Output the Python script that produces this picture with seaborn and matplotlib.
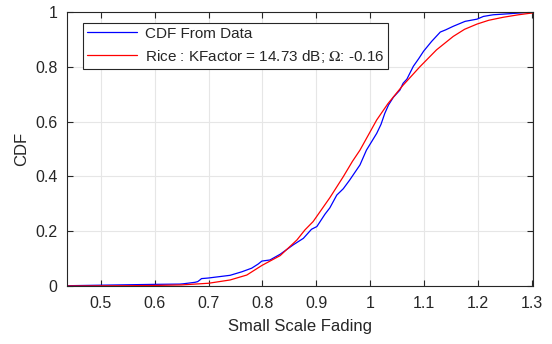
import pandas as pd
import matplotlib
matplotlib.use('Agg')
import matplotlib.pyplot as plt
import seaborn as sns

# 데이터
data_x = [0.4375, 0.50, 0.60, 0.647, 0.653, 0.675, 0.680, 0.684, 0.687, 0.699, 0.74, 0.762,
          0.78, 0.792, 0.799, 0.814, 0.833, 0.857, 0.876, 0.891, 0.901, 0.916, 0.925,
          0.938, 0.950, 0.962, 0.981, 0.993, 1.012, 1.020, 1.027, 1.034, 1.043, 1.055, 1.061,
          1.068, 1.08, 1.090, 1.099, 1.114, 1.13, 1.140, 1.154, 1.176, 1.198, 1.210,
          1.228, 1.259, 1.302]
data_cdf = [0.001, 0.003, 0.006, 0.007, 0.008, 0.0135, 0.016, 0.022, 0.027, 0.029, 0.039, 0.052,
            0.065, 0.080, 0.091, 0.095, 0.116, 0.150, 0.174, 0.207, 0.217, 0.262, 0.285,
            0.332, 0.355, 0.387, 0.442, 0.496, 0.557, 0.590, 0.630, 0.661, 0.689, 0.715, 0.740,
            0.755, 0.802, 0.830, 0.857, 0.893, 0.927, 0.935, 0.948, 0.966, 0.974, 0.984,
            0.990, 0.994, 1.0]

rice_x = [0.4375, 0.55, 0.60, 0.65, 0.70, 0.74, 0.771, 0.799, 0.833, 0.864, 0.879,
          0.894, 0.925, 0.95, 0.967, 0.981, 1.012, 1.033, 1.055, 1.061, 1.092,
          1.123, 1.154, 1.175, 1.198, 1.220, 1.247, 1.275, 1.302]
rice_cdf = [0.0, 0.001, 0.002, 0.004, 0.010, 0.022, 0.040, 0.075, 0.111, 0.168, 0.205,
            0.235, 0.322, 0.399, 0.455, 0.496, 0.606, 0.666, 0.719, 0.733, 0.800,
            0.862, 0.911, 0.937, 0.956, 0.970, 0.981, 0.990, 0.997]

x_ticks = [0.5, 0.6, 0.7, 0.8, 0.9, 1.0, 1.1, 1.2, 1.3]
x_tick_labels = ['0.5', '0.6', '0.7', '0.8', '0.9', '1', '1.1', '1.2', '1.3']
y_ticks = [0, 0.2, 0.4, 0.6, 0.8, 1]
y_tick_labels = ['0', '0.2', '0.4', '0.6', '0.8', '1']

sns.set_style('whitegrid')
plt.rcParams['font.family'] = ['Liberation Sans', 'DejaVu Sans']
plt.rcParams['mathtext.fontset'] = 'stix'

df_data = pd.DataFrame({'x': data_x, 'cdf': data_cdf})
df_rice = pd.DataFrame({'x': rice_x, 'cdf': rice_cdf})

fig = plt.figure(figsize=(5.52, 3.44), dpi=100)
ax = fig.add_axes([0.1214, 0.1686, 0.8442, 0.7964])

sns.lineplot(data=df_data, x='x', y='cdf', color='#0000ff', linewidth=0.9,
             label='CDF From Data', ax=ax)
sns.lineplot(data=df_rice, x='x', y='cdf', color='#ff0000', linewidth=0.9,
             label='Rice : KFactor = 14.73 dB; $\\Omega$: -0.16', ax=ax)

ax.set_xlim(0.4375, 1.302)
ax.set_ylim(0, 1)
ax.set_xticks(x_ticks)
ax.set_xticklabels(x_tick_labels)
ax.set_yticks(y_ticks)
ax.set_yticklabels(y_tick_labels)
ax.set_xlabel('Small Scale Fading', fontsize=12, color='#262626', labelpad=6)
ax.set_ylabel('CDF', fontsize=12, color='#262626', labelpad=4)

ax.grid(True, color='#e6e6e6', linewidth=0.8)
for s in ax.spines.values():
    s.set_visible(True)
    s.set_color('#262626')
    s.set_linewidth(0.8)
ax.tick_params(direction='in', length=4, width=0.8, colors='#262626',
               labelsize=11.5, top=True, right=True, bottom=True, left=True, pad=7)

leg = ax.legend(loc='upper left', bbox_to_anchor=(0.034, 0.96), fontsize=11,
                frameon=True, fancybox=False, handlelength=3.3, handletextpad=0.5,
                borderpad=0.25, labelspacing=0.45, borderaxespad=0)
leg.get_frame().set_edgecolor('#262626')
leg.get_frame().set_linewidth(0.8)
leg.get_frame().set_alpha(1)

fig.savefig('out.png', dpi=100)
plt.close(fig)
